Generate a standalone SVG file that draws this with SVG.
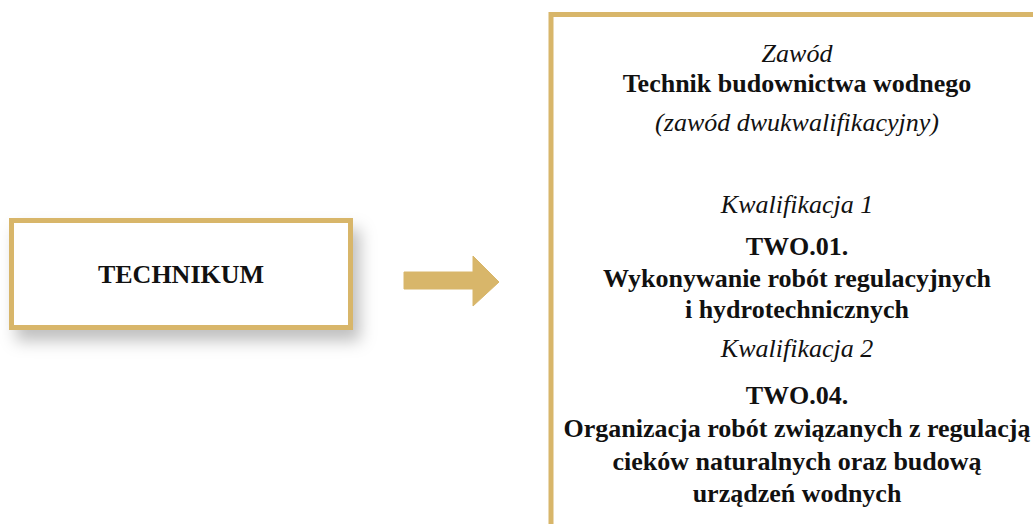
<svg xmlns="http://www.w3.org/2000/svg" width="1033" height="524" viewBox="0 0 1033 524">
  <defs>
    <filter id="shadow" x="-15%" y="-30%" width="140%" height="190%">
      <feDropShadow dx="7" dy="11" stdDeviation="8" flood-color="#000" flood-opacity="0.25"/>
    </filter>
  </defs>
  <style>
    .frame { fill: #ffffff; stroke: #D8B66A; stroke-width: 5; }
    .t { font-family: "Liberation Serif", "Times New Roman", serif; font-size: 26px; fill: #111; text-anchor: middle; }
    .b { font-weight: bold; }
    .i { font-style: italic; }
  </style>
  <rect width="1033" height="524" fill="#ffffff"/>
  <g id="technikum">
    <rect class="frame" x="11.5" y="220.5" width="339" height="107" filter="url(#shadow)"/>
    <text class="t b" x="181" y="283">TECHNIKUM</text>
  </g>
  <g id="connectors">
    <path d="M404,272 L473,272 L473,256 L499,282 L473,306 L473,289 L404,289 Z" fill="#D8B66A" stroke="#D8B66A" stroke-width="1" stroke-linejoin="round"/>
  </g>
  <g id="zawod">
    <rect class="frame" x="551" y="14.5" width="500" height="530"/>
    <text class="t i" x="797" y="62">Zawód</text>
    <text class="t b" x="797" y="92">Technik budownictwa wodnego</text>
    <text class="t i" x="797" y="131">(zawód dwukwalifikacyjny)</text>
    <text class="t i" x="797" y="213">Kwalifikacja 1</text>
    <text class="t b" x="797" y="255">TWO.01.</text>
    <text class="t b" x="797" y="287">Wykonywanie robót regulacyjnych</text>
    <text class="t b" x="797" y="318">i hydrotechnicznych</text>
    <text class="t i" x="797" y="357">Kwalifikacja 2</text>
    <text class="t b" x="797" y="404">TWO.04.</text>
    <text class="t b" x="797" y="437">Organizacja robót związanych z regulacją</text>
    <text class="t b" x="797" y="470">cieków naturalnych oraz budową</text>
    <text class="t b" x="797" y="502">urządzeń wodnych</text>
  </g>
</svg>
